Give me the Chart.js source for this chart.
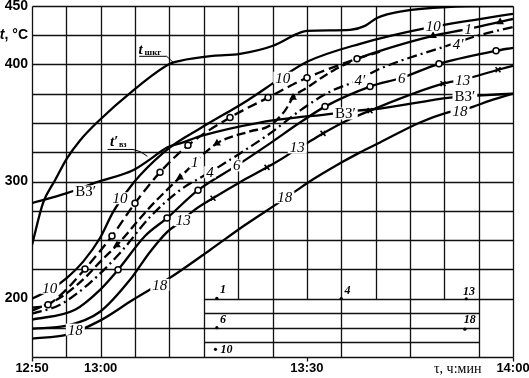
<!DOCTYPE html>
<html>
<head>
<meta charset="utf-8">
<script src="https://cdn.jsdelivr.net/npm/chart.js@4.4.1/dist/chart.umd.min.js"></script>
<style>
  html, body { margin: 0; padding: 0; background: #fff; }
  #wrap { width: 529px; height: 378px; }
</style>
</head>
<body>
<div id="wrap"><canvas id="chart"></canvas></div>
<script>
/* Нагрев металла по зонам: время (мин от 12:50) – температура, °C */

// --- данные кривых: [минуты от 12:50, t °C]
const T_SHKG = [[0,245.7],[1.6,281.5],[3.35,301.1],[5.09,319.8],[6.99,335.1],[9.46,350.4],[14.7,377.7],[20.08,400.6],[21.54,403.2],[26.34,407.4],[30.27,409.1],[35.07,416.0],[38.57,426.2],[40.02,428.7],[46.28,429.6],[48.46,433.0],[50.21,439.8],[54.0,445.7],[60.4,449.1],[70,450]];
const T_VZ = [[0,281.5],[5.09,290.0],[9.46,299.4],[14.7,309.6],[17.17,318.9],[19.65,329.1],[21.54,332.6],[24.89,339.4],[33.18,350.4],[43.81,358.1],[47.3,360.6],[50.65,362.3],[60.84,371.7],[64.76,373.4],[70,375.1]];
const C10 = [[0,199.8],[2.62,207.4],[5.09,217.7],[7.42,231.3],[9.9,251.7],[11.79,273.8],[13.83,291.7],[15.72,305.3],[20.08,329.1],[24.45,345.3],[31.29,369.1],[36.09,387.9],[40.02,402.3],[47.74,417.7],[57.49,431.3],[70,443.2]];
const C10_EXP = [[0,192.1],[2.33,194.7],[4.95,207.4],[7.71,225.3],[11.64,253.4],[14.99,281.5],[18.63,307.9],[22.7,330.9],[28.82,354.7],[34.35,371.7],[40.02,388.7],[47.3,404.9],[50.65,410.9]];
const C10_EXP_PTS = [[2.33,194.7],[7.71,225.3],[11.64,253.4],[14.99,281.5],[18.63,307.9],[22.7,330.9],[28.82,354.7],[34.35,371.7],[40.02,388.7],[47.3,404.9]];
const C1 = [[0,189.6],[4.08,200.6],[7.71,217.7],[9.9,231.3],[12.37,245.7],[17.17,278.1],[21.54,303.6],[26.92,332.6],[31.73,342.8],[34.64,347.9],[36.82,360.6],[37.99,371.7],[40.02,380.2],[43.81,394.7],[47.74,405.7],[50.65,411.7],[58.37,424.5],[63.46,430.4],[68.12,436.4],[70,438.9]];
const C1_PTS = [[12.37,245.7],[21.54,303.6],[26.92,332.6],[37.99,371.7],[58.37,424.5],[68.12,436.4]];
const C4 = [[0,187.0],[4.08,194.7],[8.44,213.4],[12.81,238.9],[17.17,269.6],[21.54,292.6],[25.9,307.9],[30.27,324.0],[34.64,341.1],[39.0,360.6],[43.37,376.8],[47.3,386.2],[50.65,396.4],[60.4,416.0],[64.76,424.5],[70,432.1]];
const C6 = [[0,181.9],[6.26,190.4],[9.9,207.4],[12.52,224.5],[16.45,253.4],[19.65,268.7],[24.16,292.6],[29.84,313.8],[34.64,332.6],[39.0,350.4],[42.64,364.0],[49.19,381.1],[53.85,388.7],[59.23,400.6],[67.53,411.7],[70,414.3]];
const C6_PTS = [[12.52,224.5],[19.65,268.7],[24.16,292.6],[42.64,364.0],[49.19,381.1],[59.23,400.6],[67.53,411.7]];
const C13 = [[0,174.3],[5.09,176.8],[9.9,188.7],[14.26,216.0],[17.17,239.8],[19.65,256.8],[21.98,267.0],[23.43,274.7],[26.34,285.7],[30.27,299.4],[34.2,312.1],[37.55,324.0],[38.57,329.1],[40.17,333.4],[42.35,341.1],[45.55,351.3],[49.19,360.6],[59.81,383.6],[62.72,387.0],[67.82,395.5],[70,398.9]];
const C13_PTS = [[26.34,285.7],[34.2,312.1],[42.35,341.1],[49.19,360.6],[59.81,383.6],[67.82,395.5]];
const C18 = [[0,165.7],[5.09,169.1],[9.9,181.1],[14.7,198.9],[17.61,209.1],[20.08,217.7],[25.91,241.5],[31.0,262.8],[35.8,281.5],[38.57,292.6],[40.02,298.5],[44.83,315.5],[47.74,324.9],[50.65,333.4],[56.47,350.4],[60.55,359.1],[63.31,362.3],[66.66,369.1],[70,375.1]];

// подписи оси времени
const X_TICKS = { 0: '12:50', 10: '13:00', 40: '13:30', 70: '14:00' };
const Y_TICKS = [450, 400, 300, 200];

// подписи кривых [текст, мин, °C]
const NUM_LABELS = [
  ['10', 2.6, 209.1], ['10', 12.8, 285.7], ['10', 36.5, 388.7], ['10', 58.4, 433.0],
  ['1', 23.7, 316.4], ['1', 63.5, 430.4],
  ['4', 25.9, 307.9], ['4′', 47.7, 387.0], ['4′', 62.0, 417.7],
  ['6', 29.8, 313.8], ['6', 53.8, 388.7],
  ['13', 22.0, 267.0], ['13', 38.6, 329.1], ['13', 62.7, 387.0],
  ['18', 6.3, 173.4], ['18', 18.6, 211.7], ['18', 36.8, 286.6], ['18', 62.3, 360.6]
];
const VZ_LABELS = [['ВЗ′', 7.8, 291.5], ['ВЗ′', 45.6, 358.1], ['ВЗ′', 63.0, 373.4]];
// нижняя табличка с обозначениями
const KEY_TEXT = [['1', 27.8, 207.4], ['4', 45.9, 206.6], ['13', 63.6, 205.7], ['6', 27.8, 181.9], ['18', 63.7, 181.9], ['10', 28.3, 156.4]];
const KEY_DOTS = [[26.9, 200.2], [45.0, 200.0], [63.2, 199.8], [26.9, 175.1], [63.0, 173.8], [26.7, 156.6]];

const toXY = arr => arr.map(p => ({ x: p[0], y: p[1] }));

function curve(data, extra) {
  return Object.assign({
    data: toXY(data),
    borderColor: '#000',
    borderWidth: 2.3,
    pointRadius: 0,
    fill: false,
    cubicInterpolationMode: 'monotone',
    order: 2
  }, extra || {});
}
function marks(data, style, extra) {
  return Object.assign({
    type: 'scatter',
    data: toXY(data),
    showLine: false,
    pointStyle: style,
    pointRadius: 3,
    pointBorderColor: '#000',
    pointBackgroundColor: '#fff',
    pointBorderWidth: 1.5,
    order: 0
  }, extra || {});
}

// сетка рисуется вручную: внизу справа вставлена табличка
const gridPlugin = {
  id: 'gridPlugin',
  beforeDatasetsDraw(chart) {
    const { ctx, scales: { x, y } } = chart;
    const seg = (m1, v1, m2, v2) => {
      ctx.beginPath();
      ctx.moveTo(Math.round(x.getPixelForValue(m1)) + 0.5, Math.round(y.getPixelForValue(v1)) + 0.5);
      ctx.lineTo(Math.round(x.getPixelForValue(m2)) + 0.5, Math.round(y.getPixelForValue(v2)) + 0.5);
      ctx.stroke();
    };
    ctx.save();
    ctx.strokeStyle = '#111';
    ctx.lineWidth = 1.3;
    for (let v = 225; v <= 450; v += 25) seg(0, v, 70, v);
    seg(25, 200, 70, 200);
    seg(0, 175, 65, 175);
    seg(25, 187.5, 65, 187.5);
    seg(25, 162.5, 65, 162.5);
    for (let m = 0; m <= 70; m += 5) {
      const full = m <= 25 || m % 10 === 5 || m === 70;
      seg(m, full ? 150 : 200, m, 450);
    }
    seg(0, 150, 70, 150);
    // засечки под осью
    [0, 40, 70].forEach(m => seg(m, 150, m, 146.5));
    ctx.restore();
  }
};

function boxText(ctx, txt, px, py, font) {
  ctx.font = font;
  const w = ctx.measureText(txt).width;
  ctx.fillStyle = '#fff';
  ctx.fillRect(px - w / 2 - 2, py - 6, w + 4, 12);
  ctx.fillStyle = '#000';
  ctx.fillText(txt, px, py + 1);
}

const labelPlugin = {
  id: 'labelPlugin',
  afterDatasetsDraw(chart) {
    const { ctx, scales: { x, y } } = chart;
    const X = m => x.getPixelForValue(m), Y = v => y.getPixelForValue(v);
    ctx.save();
    ctx.textAlign = 'center';
    ctx.textBaseline = 'middle';
    NUM_LABELS.forEach(([t, m, v]) => boxText(ctx, t, X(m), Y(v), 'italic 15px "Liberation Serif"'));
    VZ_LABELS.forEach(([t, m, v]) => boxText(ctx, t, X(m), Y(v), '15px "Liberation Serif"'));

    // табличка
    ctx.fillStyle = '#000';
    ctx.font = 'italic bold 12px "Liberation Serif"';
    KEY_TEXT.forEach(([t, m, v]) => ctx.fillText(t, X(m), Y(v)));
    KEY_DOTS.forEach(([m, v]) => { ctx.beginPath(); ctx.arc(X(m), Y(v), 1.6, 0, Math.PI * 2); ctx.fill(); });

    ctx.strokeStyle = '#000';
    ctx.lineWidth = 1;
    // t_шкг
    let px = X(17.4), py = Y(412.3);
    ctx.textAlign = 'left';
    ctx.font = 'italic bold 15px "Liberation Serif"';
    ctx.fillText('t', px - 13, py);
    ctx.font = 'bold 9px "Liberation Serif"';
    ctx.fillText('шкг', px - 7, py + 3);
    ctx.beginPath();
    ctx.moveTo(X(15.6), Y(407.0)); ctx.lineTo(X(19.6), Y(407.0)); ctx.lineTo(X(20.6), Y(401.5));
    ctx.stroke();
    // t'_вз
    px = X(12.8); py = Y(334.0);
    ctx.font = 'italic bold 15px "Liberation Serif"';
    ctx.fillText('t′', px - 10, py);
    ctx.font = 'bold 8px "Liberation Serif"';
    ctx.fillText('вз', px - 1, py + 3);
    ctx.beginPath();
    ctx.moveTo(X(11.0), Y(327.4)); ctx.lineTo(X(14.7), Y(327.4));
    ctx.quadraticCurveTo(X(15.8), Y(326.5), X(16.8), Y(321.5));
    ctx.stroke();

    // подписи осей
    const yl = Y(425);
    ctx.textAlign = 'right';
    ctx.font = 'bold 14px "Liberation Sans"';
    const rest = ', °C';
    ctx.fillText(rest, 28, yl);
    const w = ctx.measureText(rest).width;
    ctx.font = 'italic bold 14px "Liberation Sans"';
    ctx.fillText('t', 28 - w, yl);
    ctx.font = '14px "Liberation Serif"';
    ctx.fillText('τ, ч:мин', X(65.4), chart.chartArea.bottom + 12);
    ctx.restore();
  }
};

new Chart(document.getElementById('chart').getContext('2d'), {
  type: 'line',
  data: {
    datasets: [
      curve(T_SHKG),
      curve(T_VZ),
      curve(C10),
      curve(C10_EXP, { borderDash: [10, 5] }),
      curve(C1, { segment: { borderDash: c => (c.p0.parsed.x < 47 ? [9, 4] : []) } }),
      curve(C4, { borderDash: [10, 4, 2, 4] }),
      curve(C6),
      curve(C13),
      curve(C18),
      marks(C10_EXP_PTS, 'circle'),
      marks(C1_PTS, 'triangle', { pointBackgroundColor: '#000', pointRadius: 3 }),
      marks(C6_PTS, 'circle'),
      marks(C13_PTS, 'crossRot', { pointRadius: 3.5, pointBorderWidth: 1.6 })
    ]
  },
  options: {
    responsive: true,
    maintainAspectRatio: false,
    animation: false,
    devicePixelRatio: 1,
    layout: { padding: { top: 6, right: 16, left: 0, bottom: 0 } },
    plugins: { legend: { display: false }, tooltip: { enabled: false } },
    scales: {
      x: {
        type: 'linear', min: 0, max: 70,
        grid: { display: false, drawTicks: false },
        border: { display: false },
        afterFit: s => { s.height = 21; s.paddingLeft = 0; s.paddingRight = 0; },
        afterBuildTicks: s => { s.ticks = Object.keys(X_TICKS).map(v => ({ value: Number(v) })); },
        ticks: {
          autoSkip: false, maxRotation: 0, padding: 4, color: '#000',
          font: { family: '"Liberation Sans"', size: 13, weight: 'bold' },
          callback: v => X_TICKS[v] || ''
        }
      },
      y: {
        type: 'linear', min: 150, max: 450,
        grid: { display: false, drawTicks: false },
        border: { display: false },
        afterFit: s => { s.width = 32; s.paddingTop = 0; s.paddingBottom = 0; },
        afterBuildTicks: s => { s.ticks = Y_TICKS.map(v => ({ value: v })); },
        ticks: {
          padding: 4, color: '#000',
          font: { family: '"Liberation Sans"', size: 14, weight: 'bold' },
          callback: v => String(v)
        }
      }
    }
  },
  plugins: [gridPlugin, labelPlugin]
});
</script>
</body>
</html>
